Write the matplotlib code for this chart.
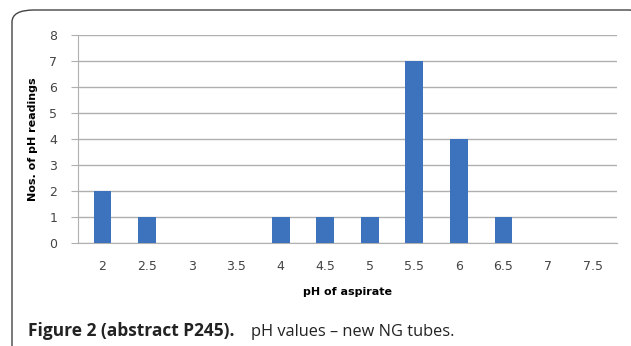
import matplotlib
matplotlib.use("Agg")
import matplotlib.pyplot as plt
from matplotlib.patches import FancyBboxPatch

ph_labels = ["2", "2.5", "3", "3.5", "4", "4.5", "5", "5.5", "6", "6.5", "7", "7.5"]
counts = [2, 1, 0, 0, 1, 1, 1, 7, 4, 1, 0, 0]

fig = plt.figure(figsize=(6.31, 3.46), dpi=100)

# rounded frame around the figure
frame = FancyBboxPatch((12 / 631, -30 / 346), 640 / 631, 366 / 346,
                       boxstyle="round,pad=0,rounding_size=0.035",
                       transform=fig.transFigure, fill=False,
                       edgecolor="#444444", linewidth=1.0, clip_on=False)
fig.patches.append(frame)

ax = fig.add_axes([78 / 631, 1 - 243 / 346, 539 / 631, 208 / 346])
x = list(range(len(ph_labels)))
ax.bar(x, counts, width=0.4, color="#3d72bd", zorder=3)

ax.set_xlim(-0.55, len(ph_labels) - 0.45)
ax.set_ylim(0, 8)
ax.set_yticks(range(0, 9))
ax.set_xticks(x)
ax.set_xticklabels(ph_labels)
ax.grid(axis="y", color="#b0b0b0", linewidth=1.0, zorder=0)
for s in ["top", "right"]:
    ax.spines[s].set_visible(False)
ax.spines["left"].set_color("#b0b0b0")
ax.spines["bottom"].set_color("#b0b0b0")
ax.tick_params(axis="y", length=5, color="#b0b0b0", labelsize=9,
               labelcolor="#444444", pad=10)
ax.tick_params(axis="x", length=0, labelsize=9, labelcolor="#444444", pad=12)

ax.set_xlabel("pH of aspirate", fontsize=8, fontweight="bold", labelpad=10)
ax.set_ylabel("Nos. of pH readings", fontsize=8, fontweight="bold", labelpad=8)

fig.text(28 / 631, 1 - 336 / 346, "Figure 2 (abstract P245).", fontsize=12.5,
         fontweight="bold", family="Open Sans", color="#222222", va="baseline")
fig.text(251 / 631, 1 - 336 / 346, "pH values \u2013 new NG tubes.", fontsize=11.8,
         family="Open Sans", color="#222222", va="baseline")

fig.savefig("out.png", dpi=100)
